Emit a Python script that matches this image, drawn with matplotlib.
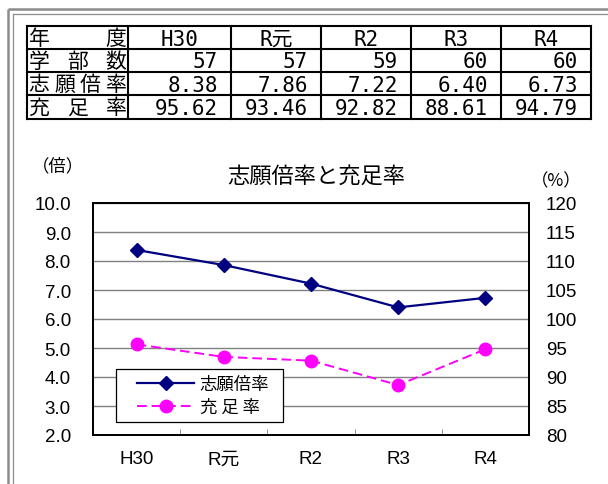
import matplotlib
matplotlib.use("Agg")
import matplotlib.pyplot as plt
from matplotlib.patches import Rectangle
import numpy as np

# data
years = ["H30", "R元", "R2", "R3", "R4"]
gakubu = [57, 57, 59, 60, 60]
shigan = [8.38, 7.86, 7.22, 6.40, 6.73]
juusoku = [95.62, 93.46, 92.82, 88.61, 94.79]

plt.rcParams['font.family'] = ['Liberation Sans', 'Noto Sans CJK JP']
JP = ['Noto Sans CJK JP', 'DejaVu Sans']
MONO = ['DejaVu Sans Mono', 'Noto Sans CJK JP']

W, H = 608, 485
fig = plt.figure(figsize=(W / 100, H / 100), dpi=100)

# background layer in pixel coordinates
bg = fig.add_axes([0, 0, 1, 1], zorder=0)
bg.set_xlim(0, W)
bg.set_ylim(H, 0)
bg.axis("off")

# double frame
bg.plot([8, 8], [10, H + 5], color="#8c8c8c", lw=1.8, solid_capstyle="butt")
bg.plot([8, W + 5], [10, 10], color="#8c8c8c", lw=1.8, solid_capstyle="butt")
bg.plot([12.5, 12.5], [14.5, H + 5], color="#8c8c8c", lw=0.9)
bg.plot([12.5, W + 5], [14.5, 14.5], color="#8c8c8c", lw=0.9)

# table
cols = [27, 128, 231, 321, 411, 501, 591]
rows = [27, 50, 73, 96, 120]
for x in cols:
    bg.plot([x, x], [rows[0], rows[-1]], color="black", lw=1.5, solid_capstyle="projecting")
for y in rows:
    bg.plot([cols[0], cols[-1]], [y, y], color="black", lw=1.5, solid_capstyle="projecting")

row_heads = ["年度", "学部数", "志願倍率", "充足率"]
for r, label in enumerate(row_heads):
    yc = (rows[r] + rows[r + 1]) / 2 + 0.5
    n = len(label)
    x0, x1 = cols[0] + 12, cols[1] - 12
    xs = np.linspace(x0, x1, n) if n > 1 else [(x0 + x1) / 2]
    for ch, xc in zip(label, xs):
        bg.text(xc, yc, ch, ha="center", va="center", fontsize=15, family=JP)

for c, yr in enumerate(years):
    xc = (cols[c + 1] + cols[c + 2]) / 2
    bg.text(xc, (rows[0] + rows[1]) / 2 + 1, yr, ha="center", va="center",
            fontsize=15, family=MONO)
    vals = [str(gakubu[c]), f"{shigan[c]:.2f}", f"{juusoku[c]:.2f}"]
    for r, v in enumerate(vals):
        yc = (rows[r + 1] + rows[r + 2]) / 2 + 1
        bg.text(cols[c + 2] - 13, yc, v, ha="right", va="center",
                fontsize=15, family=MONO)

# chart
ax = fig.add_axes([93 / W, 1 - 436 / H, (529 - 93) / W, (436 - 204) / H], zorder=2)
ax.patch.set_alpha(0)
ax2 = ax.twinx()

x = np.arange(len(years)) + 0.5
ax.set_xlim(0, len(years))
ax.set_ylim(2, 10)
ax.set_yticks(np.arange(2, 10.1, 1))
ax.set_yticklabels([f"{v:.1f}" for v in np.arange(2, 10.1, 1)], fontsize=13.5)
ax.grid(axis="y", color="#808080", lw=1)
ax.set_axisbelow(True)
ax.set_xticks(x)
ax.set_xticklabels(years, fontsize=13.5)
ax.set_xticks(np.arange(1, len(years)), minor=True)
ax.tick_params(axis="y", length=0, pad=16)
ax.tick_params(axis="x", which="major", length=0, pad=11)
ax.tick_params(axis="x", which="minor", direction="in", length=4, color="#808080")
for s in ax.spines.values():
    s.set_linewidth(1.3)

ax2.set_ylim(80, 120)
ax2.set_yticks(np.arange(80, 121, 5))
ax2.set_yticklabels([str(v) for v in range(80, 121, 5)], fontsize=13.5)
ax2.tick_params(axis="y", length=0, pad=12)
for s in ax2.spines.values():
    s.set_linewidth(1.3)

l1, = ax.plot(x, shigan, color="#000080", lw=1.6, marker="D", markersize=7,
              label="志願倍率")
l2, = ax2.plot(x, juusoku, color="#ff00ff", lw=1.4, ls=(0, (5, 2.5)), marker="o",
               markersize=9, label="充 足 率")

# legend box
box = Rectangle((116, 370), 167, 53, transform=bg.transData, facecolor="white",
                edgecolor="black", lw=0.9, zorder=4)
ax2.add_patch(box)
leg = ax2.legend([l1, l2], ["志願倍率", "充 足 率"], loc="center left",
                 bbox_to_anchor=(137, 396.5), bbox_transform=bg.transData,
                 borderaxespad=0, borderpad=0, frameon=False, handlelength=3.3,
                 handletextpad=0.3, labelspacing=0.25,
                 prop={"family": JP, "size": 12.5})
leg.set_zorder(5)

# titles
bg.text(316, 176, "志願倍率と充足率", ha="center", va="center", fontsize=16, family=JP)
bg.text(58, 166, "（倍）", ha="center", va="center", fontsize=12.5, family=JP)
bg.text(556, 181, "（%）", ha="center", va="center", fontsize=12.5, family=JP)

fig.savefig("out.png", dpi=100)
